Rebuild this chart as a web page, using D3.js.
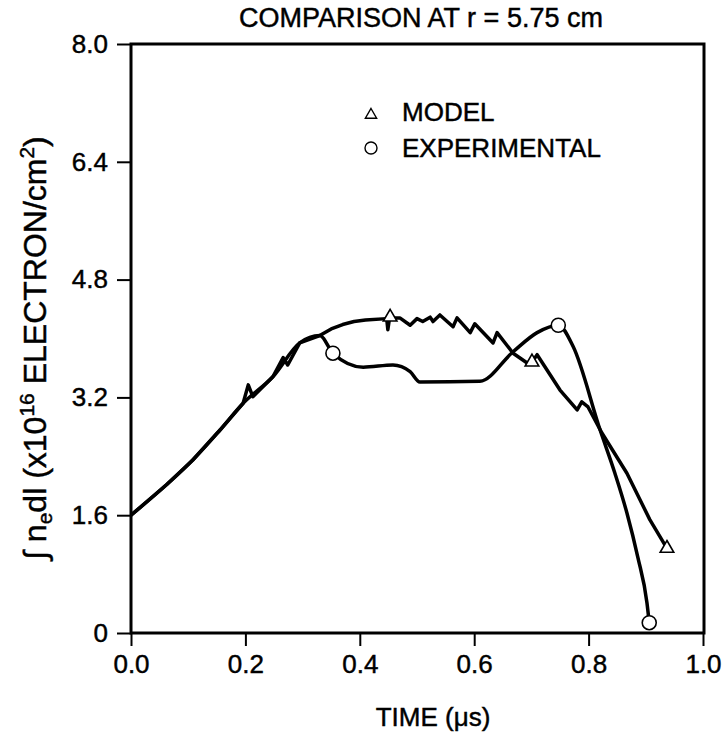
<!DOCTYPE html>
<html>
<head>
<meta charset="utf-8">
<script src="https://cdn.jsdelivr.net/npm/d3@7"></script>
<style>
  html, body { margin: 0; padding: 0; background: #fff; }
  svg { display: block; }
  text { font-family: "Liberation Sans", Arial, Helvetica, sans-serif; fill: #000; stroke: #000; stroke-width: 0.45px; }
</style>
</head>
<body>
<svg id="chart" width="723" height="736"></svg>
<script>
// ---- data ----
const xTickValues = [0, 0.2, 0.4, 0.6, 0.8, 1.0];
const xTickLabels = ["0.0", "0.2", "0.4", "0.6", "0.8", "1.0"];
const yTickValues = [0, 1.6, 3.2, 4.8, 6.4, 8.0];
const yTickLabels = ["0", "1.6", "3.2", "4.8", "6.4", "8.0"];

// MODEL curve (jagged)
const modelTime = [0, 0.063, 0.108, 0.156, 0.196, 0.205, 0.213, 0.248, 0.266, 0.274, 0.295, 0.330,
  0.350, 0.370, 0.390, 0.410, 0.447, 0.449, 0.452, 0.470, 0.488, 0.500, 0.510, 0.523, 0.528, 0.540, 0.563, 0.570,
  0.593, 0.601, 0.633, 0.640, 0.668, 0.692, 0.701, 0.710, 0.750, 0.780, 0.788, 0.799, 0.823, 0.867,
  0.907, 0.937];
const modelValue = [1.60, 2.02, 2.35, 2.76, 3.12, 3.37, 3.21, 3.48, 3.74, 3.64, 3.94, 4.04,
  4.13, 4.19, 4.23, 4.25, 4.27, 4.12, 4.28, 4.28, 4.18, 4.27, 4.23, 4.29, 4.23, 4.32, 4.16, 4.28,
  4.08, 4.20, 3.94, 4.08, 3.80, 3.67, 3.68, 3.78, 3.30, 3.03, 3.14, 3.07, 2.72, 2.17,
  1.54, 1.15];
const modelMarkTime = [0.453, 0.701, 0.937];
const modelMarkValue = [4.29, 3.68, 1.15];

// EXPERIMENTAL curve (smooth)
const expTime = [0, 0.063, 0.108, 0.156, 0.196, 0.248, 0.295, 0.330, 0.353, 0.406, 0.458, 0.488,
  0.505, 0.610, 0.668, 0.710, 0.747, 0.773, 0.820, 0.846, 0.867, 0.886, 0.902, 0.906];
const expValue = [1.60, 2.02, 2.35, 2.76, 3.12, 3.48, 3.94, 4.04, 3.80, 3.61, 3.64, 3.55,
  3.41, 3.42, 3.82, 4.08, 4.18, 3.89, 2.76, 2.17, 1.63, 1.03, 0.41, 0.14];
const expMarkTime = [0.353, 0.747, 0.906];
const expMarkValue = [3.80, 4.18, 0.14];

const legendLabels = ["MODEL", "EXPERIMENTAL"];

// ---- layout ----
const svg = d3.select("#chart");
const x = d3.scaleLinear().domain([0, 1]).range([131, 703]);
const y = d3.scaleLinear().domain([0, 8]).range([633, 44]);

// axes
const xAxis = d3.axisBottom(x).tickValues(xTickValues)
  .tickFormat((d, i) => xTickLabels[i]).tickSizeInner(13).tickSizeOuter(0).tickPadding(9);
const gx = svg.append("g").attr("transform", `translate(0,${y(0)})`).call(xAxis);
gx.select(".domain").remove();
gx.selectAll("line").attr("stroke", "#000").attr("stroke-width", 2);
gx.selectAll("text").attr("font-size", 26).style("font-family", "'Liberation Sans', Arial, sans-serif");

const yAxis = d3.axisLeft(y).tickValues(yTickValues)
  .tickFormat((d, i) => yTickLabels[i]).tickSizeInner(14).tickSizeOuter(0).tickPadding(9);
const gy = svg.append("g").attr("transform", `translate(${x(0)},0)`).call(yAxis);
gy.select(".domain").remove();
gy.selectAll("line").attr("stroke", "#000").attr("stroke-width", 2);
gy.selectAll("text").attr("font-size", 26).style("font-family", "'Liberation Sans', Arial, sans-serif");

// frame
svg.append("rect")
  .attr("x", x(0)).attr("y", y(8))
  .attr("width", x(1) - x(0) + 1).attr("height", y(0) - y(8))
  .attr("fill", "none").attr("stroke", "#000").attr("stroke-width", 3);

// curves
const lineModel = d3.line().x(d => x(d[0])).y(d => y(d[1])).curve(d3.curveLinear);
const lineExp = d3.line().x(d => x(d[0])).y(d => y(d[1])).curve(d3.curveMonotoneX);

svg.append("path")
  .datum(expTime.map((t, i) => [t, expValue[i]]))
  .attr("d", lineExp).attr("fill", "none").attr("stroke", "#000")
  .attr("stroke-width", 3.5).attr("stroke-linejoin", "round");

svg.append("path")
  .datum(modelTime.map((t, i) => [t, modelValue[i]]))
  .attr("d", lineModel).attr("fill", "none").attr("stroke", "#000")
  .attr("stroke-width", 3.5).attr("stroke-linejoin", "round");

// markers
const tri = d3.symbol().type(d3.symbolTriangle).size(80);
svg.selectAll(".tri").data(modelMarkTime.map((t, i) => [t, modelMarkValue[i]]))
  .enter().append("path")
  .attr("transform", d => `translate(${x(d[0])},${y(d[1])})`)
  .attr("d", tri).attr("fill", "#fff").attr("stroke", "#000").attr("stroke-width", 1.6);

svg.selectAll(".circ").data(expMarkTime.map((t, i) => [t, expMarkValue[i]]))
  .enter().append("circle")
  .attr("cx", d => x(d[0])).attr("cy", d => y(d[1])).attr("r", 7)
  .attr("fill", "#fff").attr("stroke", "#000").attr("stroke-width", 1.6);

// legend
svg.append("path").attr("transform", "translate(371,115)")
  .attr("d", d3.symbol().type(d3.symbolTriangle).size(55)).attr("fill", "#fff")
  .attr("stroke", "#000").attr("stroke-width", 1.4);
svg.append("circle").attr("cx", 371).attr("cy", 148).attr("r", 6)
  .attr("fill", "#fff").attr("stroke", "#000").attr("stroke-width", 1.4);
svg.append("text").attr("x", 402).attr("y", 121).attr("font-size", 26).text(legendLabels[0]);
svg.append("text").attr("x", 402).attr("y", 157).attr("font-size", 26).text(legendLabels[1]);

// title
svg.append("text").attr("x", 421).attr("y", 27).attr("text-anchor", "middle")
  .attr("font-size", 27).text("COMPARISON AT r = 5.75 cm");

// x label
svg.append("text").attr("x", 433).attr("y", 726).attr("text-anchor", "middle")
  .attr("font-size", 26).text("TIME (\u03bcs)");

// y label
const yl = svg.append("text").attr("transform", "translate(46,348) rotate(-90)")
  .attr("text-anchor", "middle").attr("font-size", 32);
yl.append("tspan").text("\u222b n");
yl.append("tspan").attr("font-size", 21).attr("dy", 6).text("e");
yl.append("tspan").attr("dy", -6).text("dl (x10");
yl.append("tspan").attr("font-size", 21).attr("dy", -12).text("16");
yl.append("tspan").attr("dy", 12).text(" ELECTRON/cm");
yl.append("tspan").attr("font-size", 21).attr("dy", -12).text("2");
yl.append("tspan").attr("dy", 12).text(")");
</script>
</body>
</html>
